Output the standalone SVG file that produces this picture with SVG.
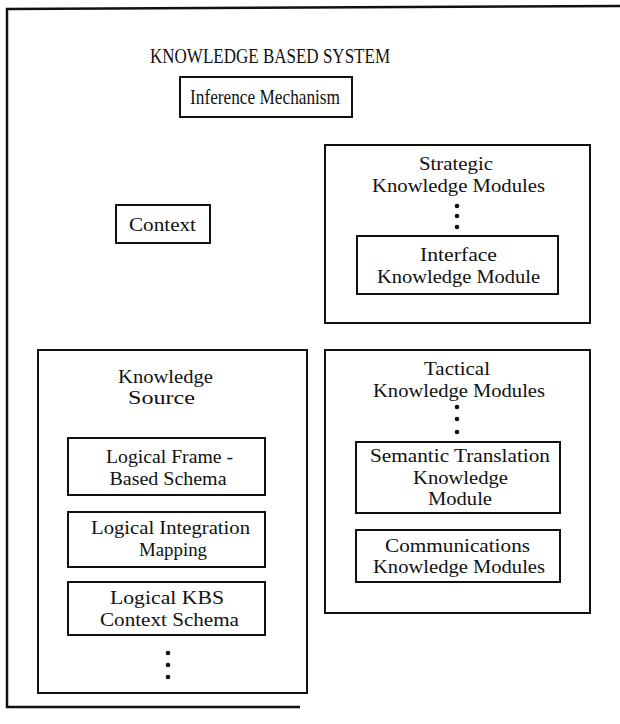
<svg xmlns="http://www.w3.org/2000/svg" width="620" height="724" viewBox="0 0 620 724">
  <style>
    .box { fill: none; stroke: #111; stroke-width: 2; }
    .frame { fill: none; stroke: #111; stroke-width: 2.5; }
    text { font-family: "Liberation Serif", "Times New Roman", serif; font-size: 19.5px; fill: #111; text-anchor: middle; }
    .title { font-size: 21px; }
    .big { font-size: 21px; }
    .dot { fill: #111; }
  </style>
  <rect width="620" height="724" fill="#fff"/>

  <!-- outer system frame -->
  <g id="system">
    <path class="frame" d="M620,6 L7,9 L7,707 L300,707"/>
    <text class="title" x="270" y="63" textLength="240" lengthAdjust="spacingAndGlyphs">KNOWLEDGE BASED SYSTEM</text>
  </g>

  <g id="inference-mechanism">
    <rect class="box" x="180" y="77" width="172" height="40"/>
    <text class="big" x="265" y="104" textLength="150" lengthAdjust="spacingAndGlyphs">Inference Mechanism</text>
  </g>

  <g id="context">
    <rect class="box" x="116" y="205" width="94" height="38"/>
    <text x="162.5" y="231" textLength="67" lengthAdjust="spacingAndGlyphs">Context</text>
  </g>

  <g id="strategic-modules">
    <rect class="box" x="325" y="145" width="265" height="178"/>
    <text x="456" y="170" textLength="74" lengthAdjust="spacingAndGlyphs">Strategic</text>
    <text x="458.5" y="192" textLength="173" lengthAdjust="spacingAndGlyphs">Knowledge Modules</text>
    <circle class="dot" cx="457" cy="206" r="2.3"/>
    <circle class="dot" cx="457" cy="216" r="2.3"/>
    <circle class="dot" cx="457" cy="227" r="2.3"/>
  </g>

  <g id="interface-module">
    <rect class="box" x="357" y="236" width="201" height="58"/>
    <text x="458.5" y="261" textLength="77" lengthAdjust="spacingAndGlyphs">Interface</text>
    <text x="458.5" y="283" textLength="163" lengthAdjust="spacingAndGlyphs">Knowledge Module</text>
  </g>

  <g id="tactical-modules">
    <rect class="box" x="325" y="350" width="265" height="263"/>
    <text x="457" y="375" textLength="66" lengthAdjust="spacingAndGlyphs">Tactical</text>
    <text x="459" y="397" textLength="172" lengthAdjust="spacingAndGlyphs">Knowledge Modules</text>
    <circle class="dot" cx="457" cy="407" r="2.3"/>
    <circle class="dot" cx="457" cy="419" r="2.3"/>
    <circle class="dot" cx="457" cy="432" r="2.3"/>
  </g>

  <g id="semantic-translation">
    <rect class="box" x="356" y="442" width="204" height="71"/>
    <text x="460" y="462" textLength="180" lengthAdjust="spacingAndGlyphs">Semantic Translation</text>
    <text x="460.5" y="484" textLength="95" lengthAdjust="spacingAndGlyphs">Knowledge</text>
    <text x="460" y="505" textLength="64" lengthAdjust="spacingAndGlyphs">Module</text>
  </g>

  <g id="communications">
    <rect class="box" x="356" y="530" width="204" height="52"/>
    <text x="457.5" y="552" textLength="145" lengthAdjust="spacingAndGlyphs">Communications</text>
    <text x="459" y="573" textLength="172" lengthAdjust="spacingAndGlyphs">Knowledge Modules</text>
  </g>

  <g id="knowledge-source">
    <rect class="box" x="38" y="350" width="269" height="343"/>
    <text x="165.5" y="383" textLength="95" lengthAdjust="spacingAndGlyphs">Knowledge</text>
    <text x="161.5" y="404" textLength="67" lengthAdjust="spacingAndGlyphs">Source</text>
    <circle class="dot" cx="168" cy="653" r="2.3"/>
    <circle class="dot" cx="168" cy="665" r="2.3"/>
    <circle class="dot" cx="168" cy="677" r="2.3"/>
  </g>

  <g id="frame-schema">
    <rect class="box" x="68" y="438" width="197" height="57"/>
    <text x="169.5" y="463" textLength="127" lengthAdjust="spacingAndGlyphs">Logical Frame -</text>
    <text x="168" y="485" textLength="117" lengthAdjust="spacingAndGlyphs">Based Schema</text>
  </g>

  <g id="integration-mapping">
    <rect class="box" x="68" y="512" width="197" height="55"/>
    <text x="170.5" y="534" textLength="159" lengthAdjust="spacingAndGlyphs">Logical Integration</text>
    <text x="173" y="556" textLength="68" lengthAdjust="spacingAndGlyphs">Mapping</text>
  </g>

  <g id="kbs-context-schema">
    <rect class="box" x="68" y="582" width="197" height="53"/>
    <text x="167" y="604" textLength="114" lengthAdjust="spacingAndGlyphs">Logical KBS</text>
    <text x="169.5" y="626" textLength="139" lengthAdjust="spacingAndGlyphs">Context Schema</text>
  </g>

  <g id="connectors"></g>
</svg>
